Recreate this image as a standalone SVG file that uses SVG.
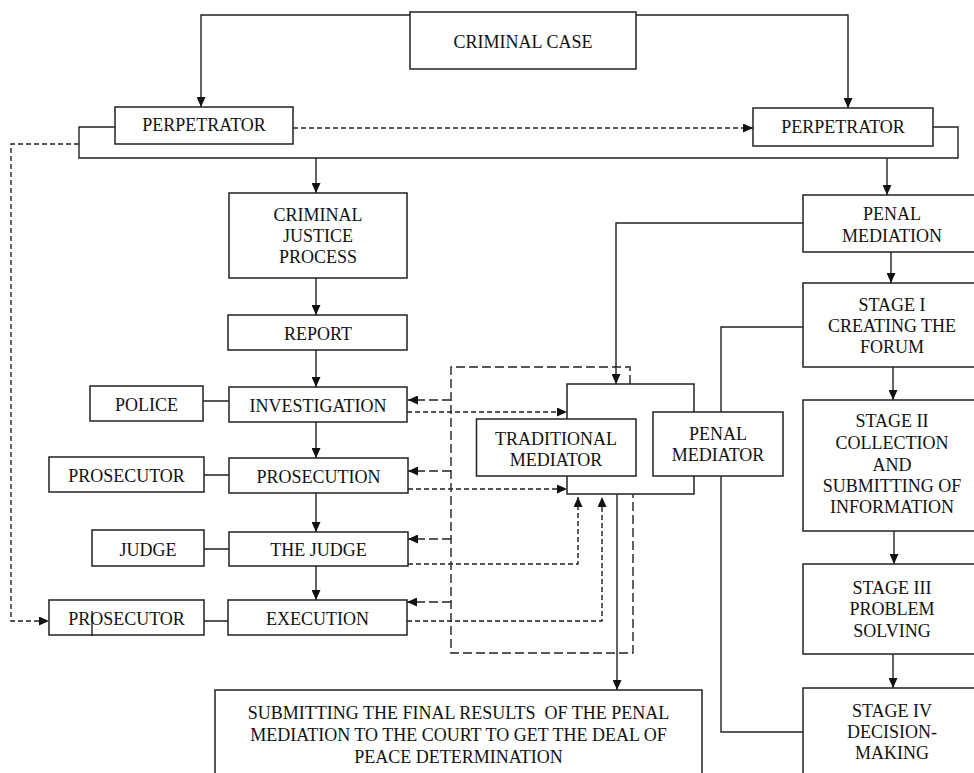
<svg xmlns="http://www.w3.org/2000/svg" width="974" height="773" viewBox="0 0 974 773">
<style>
.box{fill:#fff;stroke:#222;stroke-width:1.5}
.ln{fill:none;stroke:#222;stroke-width:1.4}
.sd{fill:none;stroke:#222;stroke-width:1.4;stroke-dasharray:5 3}
.ld{fill:none;stroke:#222;stroke-width:1.4;stroke-dasharray:9 4}
text{font-family:"Liberation Serif","Times New Roman",serif;font-size:18px;fill:#111;text-anchor:middle}
</style>
<defs>
<marker id="ah" viewBox="0 0 10 9" refX="10" refY="4.5" markerWidth="10" markerHeight="9" markerUnits="userSpaceOnUse" orient="auto"><path d="M0,0 L10,4.5 L0,9 z" fill="#111"/></marker>
</defs>
<rect width="974" height="773" fill="#fff"/>
<g id="connectors">
<path class="ln" d="M410,15 H201 V107" marker-end="url(#ah)"/>
<path class="ln" d="M636,15 H848 V108" marker-end="url(#ah)"/>
<path class="ln" d="M115,127 H79 V158 H958 V127 H933"/>
<path class="ln" d="M316,158 V193" marker-end="url(#ah)"/>
<path class="ln" d="M887,158 V195" marker-end="url(#ah)"/>
<path class="sd" d="M293,128 H753" marker-end="url(#ah)"/>
<path class="sd" d="M79,144 H11 V621 H49" marker-end="url(#ah)"/>
<path class="ln" d="M316,278 V315" marker-end="url(#ah)"/>
<path class="ln" d="M316,350 V387" marker-end="url(#ah)"/>
<path class="ln" d="M316,422 V458" marker-end="url(#ah)"/>
<path class="ln" d="M316,493 V532" marker-end="url(#ah)"/>
<path class="ln" d="M316,566 V600" marker-end="url(#ah)"/>
<path class="ln" d="M203,401 H229 M204,475 H229 M204,549 H229 M204,621 H228"/>
<path class="ln" d="M803,223 H616 V384" marker-end="url(#ah)"/>
<path class="ln" d="M891,252 V283" marker-end="url(#ah)"/>
<path class="ln" d="M893,367 V400" marker-end="url(#ah)"/>
<path class="ln" d="M894,531 V564" marker-end="url(#ah)"/>
<path class="ln" d="M893,654 V688" marker-end="url(#ah)"/>
<path class="ln" d="M803,327 H721 V412"/>
<path class="ln" d="M721,476 V732 H803"/>
<path class="ld" d="M630,384 V367 H451 V653 H633 V494"/>
<path class="ld" d="M451,400 H408" marker-end="url(#ah)"/>
<path class="ld" d="M451,471 H408" marker-end="url(#ah)"/>
<path class="ld" d="M451,539 H408" marker-end="url(#ah)"/>
<path class="ld" d="M451,602 H407" marker-end="url(#ah)"/>
<path class="sd" d="M407,412 H567" marker-end="url(#ah)"/>
<path class="sd" d="M408,489 H567" marker-end="url(#ah)"/>
<path class="sd" d="M408,564 H578 V497" marker-end="url(#ah)"/>
<path class="sd" d="M407,621 H602 V497" marker-end="url(#ah)"/>
<path class="ln" d="M617,494 V690" marker-end="url(#ah)"/>
</g>
<g id="criminal-case"><rect class="box" x="410" y="12" width="226" height="57"/><text x="523" y="48">CRIMINAL CASE</text></g>
<g id="perpetrator-left"><rect class="box" x="115" y="107" width="178" height="37"/><text x="204" y="131">PERPETRATOR</text></g>
<g id="perpetrator-right"><rect class="box" x="753" y="108" width="180" height="38"/><text x="843" y="133">PERPETRATOR</text></g>
<g id="criminal-justice-process"><rect class="box" x="229" y="193" width="178" height="85"/><text x="318" y="221">CRIMINAL</text><text x="318" y="242">JUSTICE</text><text x="318" y="263">PROCESS</text></g>
<g id="report"><rect class="box" x="228" y="315" width="179" height="35"/><text x="318" y="340">REPORT</text></g>
<g id="investigation"><rect class="box" x="229" y="387" width="178" height="35"/><text x="318" y="412">INVESTIGATION</text></g>
<g id="police"><rect class="box" x="90" y="386" width="113" height="35"/><text x="146.5" y="411">POLICE</text></g>
<g id="prosecutor-1"><rect class="box" x="49" y="457" width="155" height="35"/><text x="126.5" y="482">PROSECUTOR</text></g>
<g id="prosecution"><rect class="box" x="229" y="458" width="179" height="35"/><text x="318.5" y="483">PROSECUTION</text></g>
<g id="judge"><rect class="box" x="92" y="530" width="112" height="36"/><text x="148" y="556">JUDGE</text></g>
<g id="the-judge"><rect class="box" x="229" y="532" width="179" height="34"/><text x="318.5" y="556">THE JUDGE</text></g>
<g id="prosecutor-2"><rect class="box" x="49" y="600" width="155" height="35"/><text x="126.5" y="625">PROSECUTOR</text><path class="ln" d="M92,611 V636"/></g>
<g id="execution"><rect class="box" x="228" y="600" width="179" height="35"/><text x="317.5" y="625">EXECUTION</text></g>
<g id="penal-mediation"><path class="box" d="M974,195 H803 V252 H974"/><text x="892" y="220">PENAL</text><text x="892" y="242">MEDIATION</text></g>
<g id="stage-1"><path class="box" d="M974,283 H803 V367 H974"/><text x="892" y="311">STAGE I</text><text x="892" y="332">CREATING THE</text><text x="892" y="353">FORUM</text></g>
<g id="stage-2"><path class="box" d="M974,400 H803 V531 H974"/><text x="892" y="427">STAGE II</text><text x="892" y="449">COLLECTION</text><text x="892" y="471">AND</text><text x="892" y="492">SUBMITTING OF</text><text x="892" y="513">INFORMATION</text></g>
<g id="stage-3"><path class="box" d="M974,564 H803 V654 H974"/><text x="892" y="594">STAGE III</text><text x="892" y="615">PROBLEM</text><text x="892" y="637">SOLVING</text></g>
<g id="stage-4"><path class="box" d="M974,688 H803 V774"/><text x="892" y="717">STAGE IV</text><text x="892" y="738">DECISION-</text><text x="892" y="759">MAKING</text></g>
<g id="mediator-group"><rect class="box" x="567" y="384" width="127" height="110"/></g>
<g id="traditional-mediator"><rect class="box" x="476.5" y="419" width="159.5" height="57"/><text x="556" y="445">TRADITIONAL</text><text x="556" y="466">MEDIATOR</text></g>
<g id="penal-mediator"><rect class="box" x="653" y="412" width="130" height="64"/><text x="718" y="440">PENAL</text><text x="718" y="461">MEDIATOR</text></g>
<g id="submitting"><path class="box" d="M215,774 V690 H702 V774"/><text x="458.5" y="719" style="white-space:pre">SUBMITTING THE FINAL RESULTS  OF THE PENAL</text><text x="458.5" y="741">MEDIATION TO THE COURT TO GET THE DEAL OF</text><text x="458.5" y="763">PEACE DETERMINATION</text></g>
</svg>
